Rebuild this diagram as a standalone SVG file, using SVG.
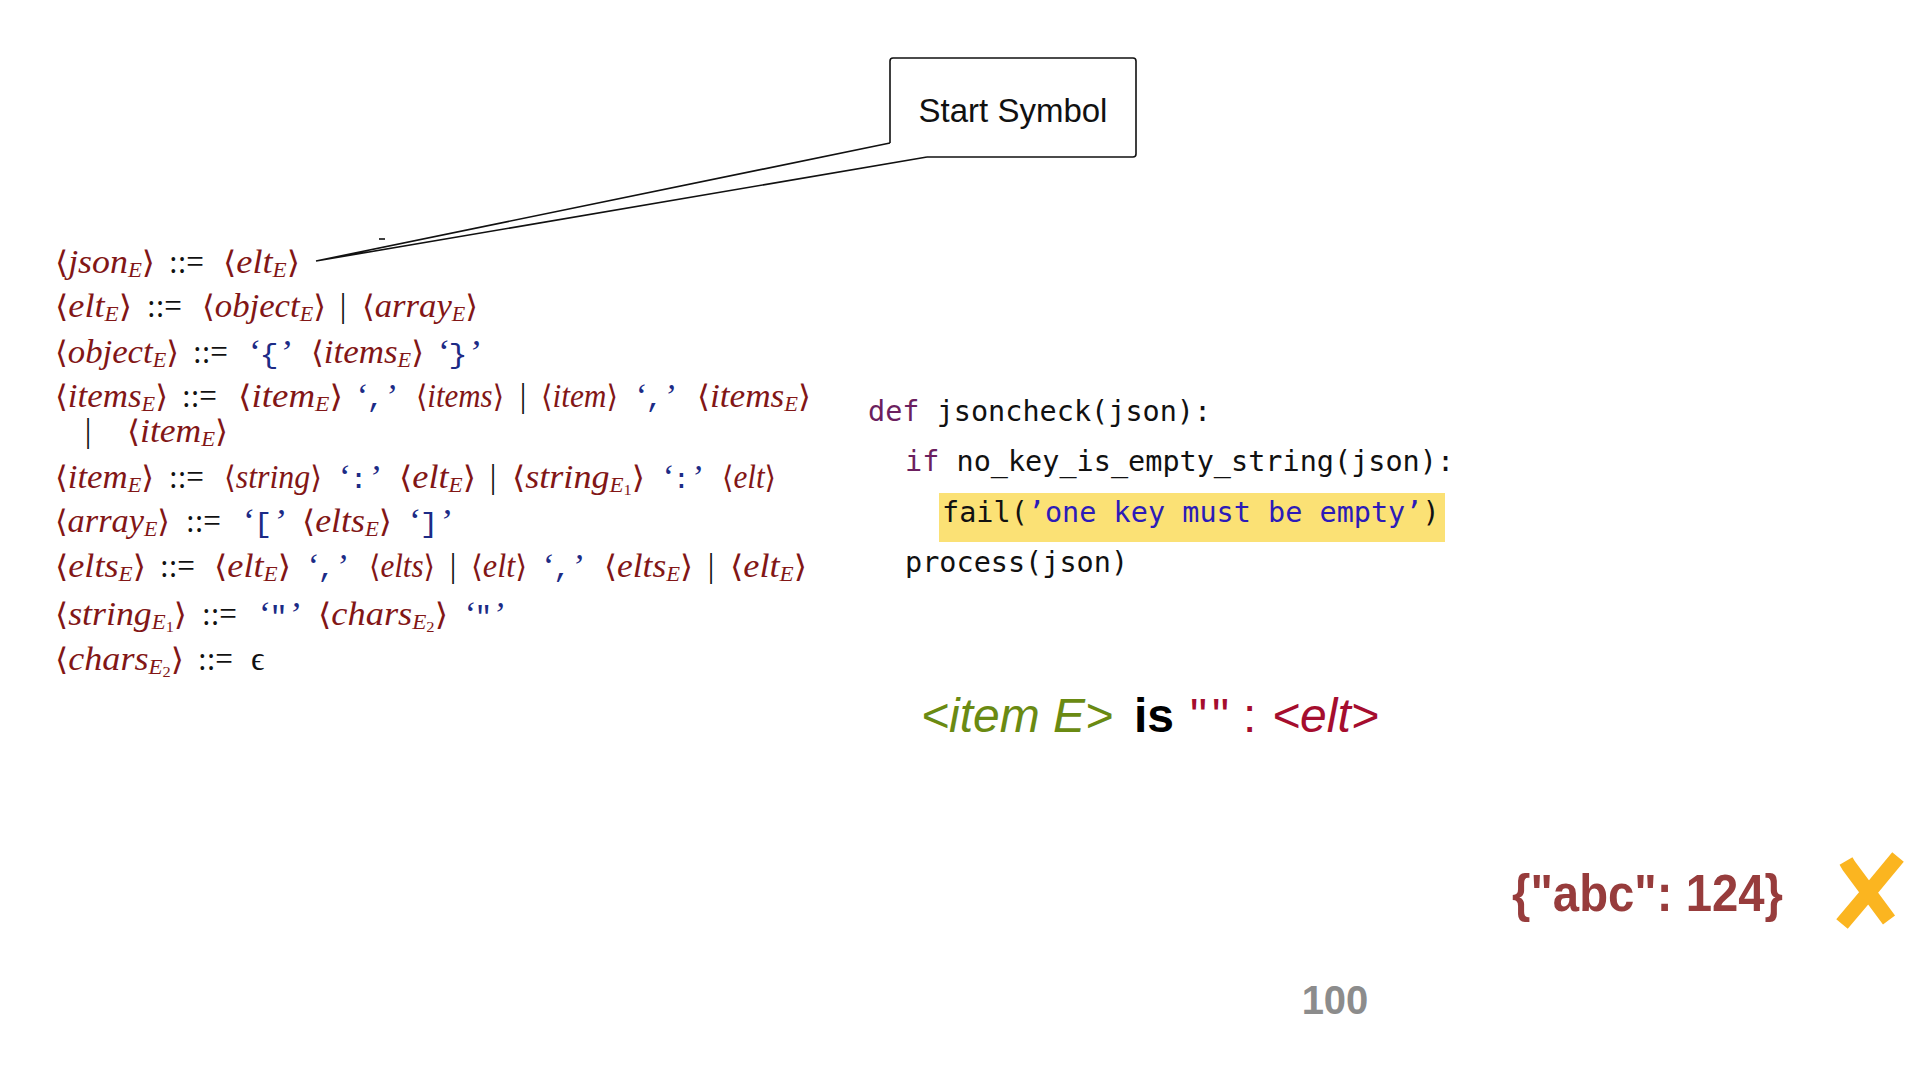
<svg xmlns="http://www.w3.org/2000/svg" width="1920" height="1080" viewBox="0 0 1920 1080">
<style>
.g{font-family:"Liberation Serif",serif;font-size:33px}
.nt{fill:#821616;font-style:italic}
.br{font-family:"DejaVu Serif","Liberation Serif",serif;font-style:normal;font-size:31px}
.sb{font-size:21px;font-style:italic}
.ss{font-size:15px;font-style:normal}
.op{fill:#111;font-style:normal}
.bar{fill:#111;font-style:normal;text-anchor:middle}
.t{fill:#1c2b86;font-style:italic}
.tm{font-family:"Liberation Mono",monospace;font-style:normal;font-size:28px}
.code{font-family:"DejaVu Sans Mono",monospace;font-size:28.5px;fill:#111}
.kw{fill:#6c1f5f}
.str{fill:#2c1bb8}
.ln{fill:none;stroke:#111;stroke-width:1.6;stroke-linejoin:miter}
</style>
<rect width="1920" height="1080" fill="#fff"/>

<g id="connectors">
  <polyline class="ln" points="890,143 316,261 927,157"/>
  <line x1="379" y1="239" x2="385" y2="239" stroke="#111" stroke-width="1.6"/>
</g>

<g id="start-symbol">
  <path class="ln" d="M890 143 L890 61 Q890 58 893 58 L1133 58 Q1136 58 1136 61 L1136 154 Q1136 157 1133 157 L927 157"/>
  <text x="1013" y="122" font-family="Liberation Sans, sans-serif" font-size="33" fill="#111" text-anchor="middle">Start Symbol</text>
</g>

<g id="grammar" class="g">
  <g id="rule-json">
    <text class="nt" x="55" y="273" textLength="100" lengthAdjust="spacingAndGlyphs"><tspan class="br">⟨</tspan>json<tspan class="sb" dy="4">E</tspan><tspan class="br" dy="-4">⟩</tspan></text>
    <text class="op" x="169" y="273" textLength="35" lengthAdjust="spacingAndGlyphs">::=</text>
    <text class="nt" x="223" y="273" textLength="77" lengthAdjust="spacingAndGlyphs"><tspan class="br">⟨</tspan>elt<tspan class="sb" dy="4">E</tspan><tspan class="br" dy="-4">⟩</tspan></text>
  </g>
  <g id="rule-elt">
    <text class="nt" x="55" y="317" textLength="77" lengthAdjust="spacingAndGlyphs"><tspan class="br">⟨</tspan>elt<tspan class="sb" dy="4">E</tspan><tspan class="br" dy="-4">⟩</tspan></text>
    <text class="op" x="147" y="317" textLength="35" lengthAdjust="spacingAndGlyphs">::=</text>
    <text class="nt" x="202" y="317" textLength="124" lengthAdjust="spacingAndGlyphs"><tspan class="br">⟨</tspan>object<tspan class="sb" dy="4">E</tspan><tspan class="br" dy="-4">⟩</tspan></text>
    <text class="bar" x="343" y="317">|</text>
    <text class="nt" x="362" y="317" textLength="116" lengthAdjust="spacingAndGlyphs"><tspan class="br">⟨</tspan>array<tspan class="sb" dy="4">E</tspan><tspan class="br" dy="-4">⟩</tspan></text>
  </g>
  <g id="rule-object">
    <text class="nt" x="55" y="363" textLength="124" lengthAdjust="spacingAndGlyphs"><tspan class="br">⟨</tspan>object<tspan class="sb" dy="4">E</tspan><tspan class="br" dy="-4">⟩</tspan></text>
    <text class="op" x="193" y="363" textLength="35" lengthAdjust="spacingAndGlyphs">::=</text>
    <text class="t" x="247" y="363" textLength="44" lengthAdjust="spacingAndGlyphs">‘<tspan class="tm">{</tspan>’</text>
    <text class="nt" x="311" y="363" textLength="113" lengthAdjust="spacingAndGlyphs"><tspan class="br">⟨</tspan>items<tspan class="sb" dy="4">E</tspan><tspan class="br" dy="-4">⟩</tspan></text>
    <text class="t" x="436" y="363" textLength="44" lengthAdjust="spacingAndGlyphs">‘<tspan class="tm">}</tspan>’</text>
  </g>
  <g id="rule-items">
    <text class="nt" x="55" y="407" textLength="113" lengthAdjust="spacingAndGlyphs"><tspan class="br">⟨</tspan>items<tspan class="sb" dy="4">E</tspan><tspan class="br" dy="-4">⟩</tspan></text>
    <text class="op" x="182" y="407" textLength="35" lengthAdjust="spacingAndGlyphs">::=</text>
    <text class="nt" x="238" y="407" textLength="105" lengthAdjust="spacingAndGlyphs"><tspan class="br">⟨</tspan>item<tspan class="sb" dy="4">E</tspan><tspan class="br" dy="-4">⟩</tspan></text>
    <text class="t" x="355" y="407" textLength="41" lengthAdjust="spacingAndGlyphs">‘<tspan class="tm">,</tspan>’</text>
    <text class="nt" x="416" y="407" textLength="88" lengthAdjust="spacingAndGlyphs"><tspan class="br">⟨</tspan>items<tspan class="br">⟩</tspan></text>
    <text class="bar" x="523" y="407">|</text>
    <text class="nt" x="541" y="407" textLength="77" lengthAdjust="spacingAndGlyphs"><tspan class="br">⟨</tspan>item<tspan class="br">⟩</tspan></text>
    <text class="t" x="634" y="407" textLength="41" lengthAdjust="spacingAndGlyphs">‘<tspan class="tm">,</tspan>’</text>
    <text class="nt" x="697" y="407" textLength="114" lengthAdjust="spacingAndGlyphs"><tspan class="br">⟨</tspan>items<tspan class="sb" dy="4">E</tspan><tspan class="br" dy="-4">⟩</tspan></text>
    <text class="bar" x="88" y="442">|</text>
    <text class="nt" x="127" y="442" textLength="101" lengthAdjust="spacingAndGlyphs"><tspan class="br">⟨</tspan>item<tspan class="sb" dy="4">E</tspan><tspan class="br" dy="-4">⟩</tspan></text>
  </g>
  <g id="rule-item">
    <text class="nt" x="55" y="488" textLength="99" lengthAdjust="spacingAndGlyphs"><tspan class="br">⟨</tspan>item<tspan class="sb" dy="4">E</tspan><tspan class="br" dy="-4">⟩</tspan></text>
    <text class="op" x="169" y="488" textLength="35" lengthAdjust="spacingAndGlyphs">::=</text>
    <text class="nt" x="224" y="488" textLength="98" lengthAdjust="spacingAndGlyphs"><tspan class="br">⟨</tspan>string<tspan class="br">⟩</tspan></text>
    <text class="t" x="337" y="488" textLength="43" lengthAdjust="spacingAndGlyphs">‘<tspan class="tm">:</tspan>’</text>
    <text class="nt" x="399" y="488" textLength="77" lengthAdjust="spacingAndGlyphs"><tspan class="br">⟨</tspan>elt<tspan class="sb" dy="4">E</tspan><tspan class="br" dy="-4">⟩</tspan></text>
    <text class="bar" x="493" y="488">|</text>
    <text class="nt" x="512" y="488" textLength="133" lengthAdjust="spacingAndGlyphs"><tspan class="br">⟨</tspan>string<tspan class="sb" dy="4">E</tspan><tspan class="ss" dy="3">1</tspan><tspan class="br" dy="-7">⟩</tspan></text>
    <text class="t" x="661" y="488" textLength="41" lengthAdjust="spacingAndGlyphs">‘<tspan class="tm">:</tspan>’</text>
    <text class="nt" x="722" y="488" textLength="54" lengthAdjust="spacingAndGlyphs"><tspan class="br">⟨</tspan>elt<tspan class="br">⟩</tspan></text>
  </g>
  <g id="rule-array">
    <text class="nt" x="55" y="532" textLength="115" lengthAdjust="spacingAndGlyphs"><tspan class="br">⟨</tspan>array<tspan class="sb" dy="4">E</tspan><tspan class="br" dy="-4">⟩</tspan></text>
    <text class="op" x="186" y="532" textLength="35" lengthAdjust="spacingAndGlyphs">::=</text>
    <text class="t" x="241" y="532" textLength="44" lengthAdjust="spacingAndGlyphs">‘<tspan class="tm">[</tspan>’</text>
    <text class="nt" x="302" y="532" textLength="90" lengthAdjust="spacingAndGlyphs"><tspan class="br">⟨</tspan>elts<tspan class="sb" dy="4">E</tspan><tspan class="br" dy="-4">⟩</tspan></text>
    <text class="t" x="407" y="532" textLength="44" lengthAdjust="spacingAndGlyphs">‘<tspan class="tm">]</tspan>’</text>
  </g>
  <g id="rule-elts">
    <text class="nt" x="55" y="577" textLength="91" lengthAdjust="spacingAndGlyphs"><tspan class="br">⟨</tspan>elts<tspan class="sb" dy="4">E</tspan><tspan class="br" dy="-4">⟩</tspan></text>
    <text class="op" x="160" y="577" textLength="35" lengthAdjust="spacingAndGlyphs">::=</text>
    <text class="nt" x="214" y="577" textLength="77" lengthAdjust="spacingAndGlyphs"><tspan class="br">⟨</tspan>elt<tspan class="sb" dy="4">E</tspan><tspan class="br" dy="-4">⟩</tspan></text>
    <text class="t" x="306" y="577" textLength="41" lengthAdjust="spacingAndGlyphs">‘<tspan class="tm">,</tspan>’</text>
    <text class="nt" x="369" y="577" textLength="66" lengthAdjust="spacingAndGlyphs"><tspan class="br">⟨</tspan>elts<tspan class="br">⟩</tspan></text>
    <text class="bar" x="453" y="577">|</text>
    <text class="nt" x="471" y="577" textLength="56" lengthAdjust="spacingAndGlyphs"><tspan class="br">⟨</tspan>elt<tspan class="br">⟩</tspan></text>
    <text class="t" x="541" y="577" textLength="42" lengthAdjust="spacingAndGlyphs">‘<tspan class="tm">,</tspan>’</text>
    <text class="nt" x="604" y="577" textLength="89" lengthAdjust="spacingAndGlyphs"><tspan class="br">⟨</tspan>elts<tspan class="sb" dy="4">E</tspan><tspan class="br" dy="-4">⟩</tspan></text>
    <text class="bar" x="711" y="577">|</text>
    <text class="nt" x="730" y="577" textLength="77" lengthAdjust="spacingAndGlyphs"><tspan class="br">⟨</tspan>elt<tspan class="sb" dy="4">E</tspan><tspan class="br" dy="-4">⟩</tspan></text>
  </g>
  <g id="rule-string">
    <text class="nt" x="55" y="625" textLength="132" lengthAdjust="spacingAndGlyphs"><tspan class="br">⟨</tspan>string<tspan class="sb" dy="4">E</tspan><tspan class="ss" dy="3">1</tspan><tspan class="br" dy="-7">⟩</tspan></text>
    <text class="op" x="202" y="625" textLength="35" lengthAdjust="spacingAndGlyphs">::=</text>
    <text class="t" x="257" y="625" textLength="43" lengthAdjust="spacingAndGlyphs">‘<tspan class="tm">"</tspan>’</text>
    <text class="nt" x="318" y="625" textLength="130" lengthAdjust="spacingAndGlyphs"><tspan class="br">⟨</tspan>chars<tspan class="sb" dy="4">E</tspan><tspan class="ss" dy="3">2</tspan><tspan class="br" dy="-7">⟩</tspan></text>
    <text class="t" x="463" y="625" textLength="41" lengthAdjust="spacingAndGlyphs">‘<tspan class="tm">"</tspan>’</text>
  </g>
  <g id="rule-chars">
    <text class="nt" x="55" y="670" textLength="129" lengthAdjust="spacingAndGlyphs"><tspan class="br">⟨</tspan>chars<tspan class="sb" dy="4">E</tspan><tspan class="ss" dy="3">2</tspan><tspan class="br" dy="-7">⟩</tspan></text>
    <text class="op" x="198" y="670" textLength="35" lengthAdjust="spacingAndGlyphs">::=</text>
    <text class="op" x="251" y="670" font-style="italic">ϵ</text>
  </g>
</g>

<g id="code">
  <rect x="939" y="493" width="506" height="49" fill="#fbe175"/>
  <text class="code" x="868" y="421"><tspan class="kw">def</tspan> jsoncheck(json):</text>
  <text class="code" x="905" y="471"><tspan class="kw">if</tspan> no_key_is_empty_string(json):</text>
  <text class="code" x="942" y="522">fail(<tspan class="str">’one key must be empty’</tspan>)</text>
  <text class="code" x="905" y="572">process(json)</text>
</g>

<g id="explanation" font-family="Liberation Sans, sans-serif" font-size="48">
  <text y="732"><tspan x="921" fill="#6a8a12" font-style="italic">&lt;item E&gt;</tspan><tspan x="1134" fill="#000" font-weight="bold">is</tspan><tspan x="1190" fill="#a50d2e" letter-spacing="5">""</tspan><tspan x="1243" fill="#a50d2e">:</tspan><tspan x="1272" fill="#a50d2e" font-style="italic">&lt;elt&gt;</tspan></text>
</g>

<g id="example">
  <text x="1512" y="911" font-family="Liberation Sans, sans-serif" font-size="52" font-weight="bold" fill="#973c3c" textLength="271" lengthAdjust="spacingAndGlyphs">{"abc": 124}</text>
</g>

<g id="cross-mark" fill="none" stroke="#fbb520" stroke-width="15">
  <path d="M1846 861 L1849 866 L1889 920"/>
  <path d="M1898 857 L1869 892 L1842 924"/>
</g>

<g id="page-number">
  <text x="1335" y="1014" font-family="Liberation Sans, sans-serif" font-size="40" font-weight="bold" fill="#8c8c8c" text-anchor="middle">100</text>
</g>
</svg>
